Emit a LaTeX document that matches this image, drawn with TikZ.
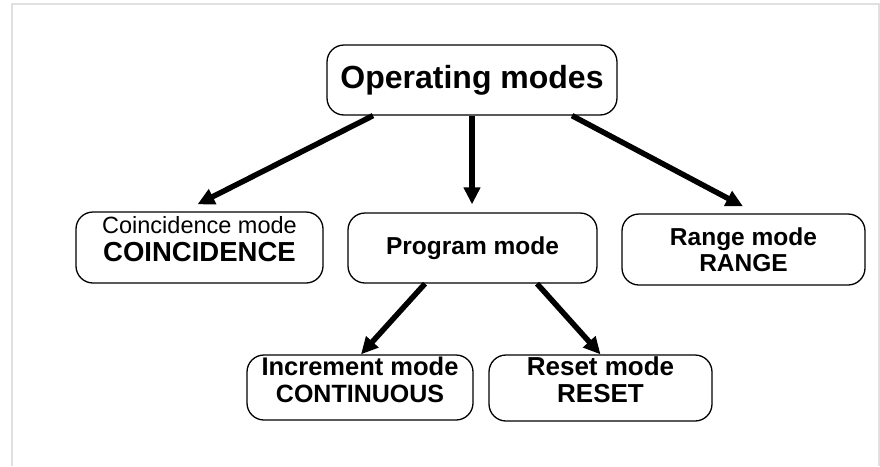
\documentclass[tikz,border=0pt]{standalone}
\usepackage{fontspec}
\setmainfont{Liberation Sans}
\usetikzlibrary{arrows.meta}

\tikzset{
  modebox/.style={draw, line width=1.3pt, rounded corners=17pt, inner sep=0pt},
  modetext/.style={align=center, inner sep=0pt, font=\fontsize{25}{27}\selectfont\bfseries},
  modearrow/.style={line width=5.5pt, -{Triangle[length=17pt,width=16pt]}},
}

\begin{document}
\begin{tikzpicture}[x=1pt,y=-1pt]
  \useasboundingbox (0,0) rectangle (880,466);
  % light frame
  \draw [black!12, line width=2pt] (12,466) -- (12,4) -- (879,4) -- (879,466);

  % Boxes
  \node [modebox, minimum width=290, minimum height=70] (top) at (472,80) {};
  \node [modebox, minimum width=247, minimum height=71] (coinc) at (199.5,247.5) {};
  \node [modebox, minimum width=249, minimum height=70] (prog) at (472.5,248) {};
  \node [modebox, minimum width=243, minimum height=71] (range) at (743.5,249.5) {};
  \node [modebox, minimum width=226, minimum height=65] (incr) at (360,387.5) {};
  \node [modebox, minimum width=223, minimum height=66] (reset) at (600.5,388) {};

  % Text Nodes
  \node [modetext, font=\fontsize{32}{34}\selectfont\bfseries] (top-txt) at (top.center) {Operating modes};
  \node [modetext, font=\fontsize{23.5}{28}\selectfont] (coinc-txt) at ([yshift=8]coinc.center)
    {Coincidence mode\\{\fontsize{27.5}{28}\selectfont\bfseries COINCIDENCE}};
  \node [modetext, font=\fontsize{24.5}{27}\selectfont\bfseries] (prog-txt) at (prog.center) {Program mode};
  \node [modetext, font=\fontsize{24.5}{26}\selectfont\bfseries] (range-txt) at (range.center) {Range mode\\RANGE};
  \node [modetext] (incr-txt) at ([yshift=8]incr.center) {{\fontsize{25.5}{27}\selectfont Increment mode}\\CONTINUOUS};
  \node [modetext, font=\fontsize{26}{27}\selectfont\bfseries] (reset-txt) at ([yshift=8]reset.center) {Reset mode\\RESET};

  % Arrows
  \draw [modearrow] ([xshift=-99]top.south) -- ([xshift=-2,yshift=7]coinc.north);
  \draw [modearrow] (top.south) -- ([xshift=-0.5,yshift=8]prog.north);
  \draw [modearrow] ([xshift=100]top.south) -- ([xshift=-0.5,yshift=7]range.north);
  \draw [modearrow] ([xshift=-47.5]prog.south) -- ([xshift=1]incr.north);
  \draw [modearrow] ([xshift=64.5]prog.south) -- (reset.north);
\end{tikzpicture}
\end{document}
